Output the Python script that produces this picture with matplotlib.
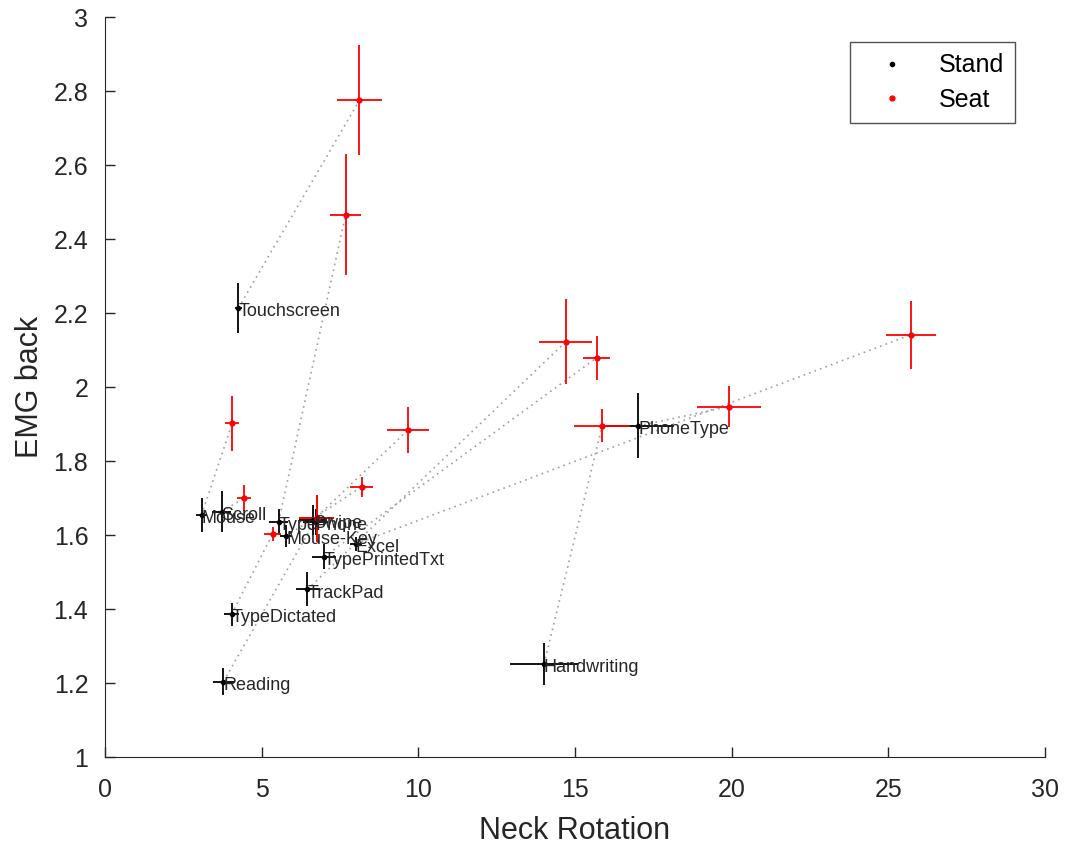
import matplotlib
matplotlib.use('Agg')
import matplotlib.pyplot as plt
from matplotlib.ticker import FuncFormatter

plt.rcParams['font.family'] = ['Liberation Sans', 'DejaVu Sans']

# ---- data ----
tasks = ['Mouse', 'Scroll', 'Touchscreen', 'Type', 'Swipe', 'Phone', 'Mouse-Key',
         'Excel', 'TypePrintedTxt', 'TrackPad', 'TypeDictated', 'Reading',
         'Handwriting', 'PhoneType']

stand_x = [3.08, 3.72, 4.26, 5.54, 6.65, 6.72, 5.78, 8.01, 6.99, 6.46, 4.04, 3.78, 14.01, 17.02]
stand_y = [1.654, 1.663, 2.214, 1.636, 1.640, 1.636, 1.597, 1.576, 1.541, 1.453, 1.386, 1.204, 1.251, 1.895]
stand_xerr = [0.19, 0.30, 0.12, 0.30, 0.45, 0.40, 0.20, 0.18, 0.37, 0.36, 0.25, 0.34, 1.08, 1.15]
stand_yerr = [0.047, 0.055, 0.068, 0.035, 0.040, 0.035, 0.030, 0.020, 0.034, 0.046, 0.031, 0.036, 0.056, 0.088]

seat_x = [4.06, 4.44, 8.12, 7.68, 9.67, 6.75, 8.19, 25.71, 15.69, 14.70, 5.35, 6.75, 15.87, 19.91]
seat_y = [1.902, 1.700, 2.775, 2.466, 1.884, 1.645, 1.730, 2.141, 2.079, 2.122, 1.603, 1.645, 1.896, 1.947]
seat_xerr = [0.23, 0.22, 0.71, 0.49, 0.68, 0.57, 0.36, 0.80, 0.44, 0.835, 0.26, 0.57, 0.90, 1.02]
seat_yerr = [0.075, 0.034, 0.149, 0.163, 0.063, 0.063, 0.028, 0.091, 0.059, 0.115, 0.018, 0.063, 0.045, 0.055]

x_ticks = [0, 5, 10, 15, 20, 25, 30]
y_ticks = [1, 1.2, 1.4, 1.6, 1.8, 2, 2.2, 2.4, 2.6, 2.8, 3]

# ---- figure ----
fig = plt.figure(figsize=(10.66, 8.48), dpi=100)
ax = fig.add_axes([0.0985, 0.1073, 0.8818, 0.8726])

# dotted connectors stand -> seat
for i in range(len(tasks)):
    ax.plot([stand_x[i], seat_x[i]], [stand_y[i], seat_y[i]],
            linestyle=(0, (1, 2.5)), color='#a0a0a0', linewidth=1.2, zorder=1)

ax.errorbar(stand_x, stand_y, xerr=stand_xerr, yerr=stand_yerr, fmt='none',
            ecolor='black', elinewidth=1.3, capsize=0, zorder=3)
ax.errorbar(seat_x, seat_y, xerr=seat_xerr, yerr=seat_yerr, fmt='none',
            ecolor='red', elinewidth=1.3, capsize=0, zorder=3)
ax.plot(stand_x, stand_y, '.', color='black', markersize=6, label='Stand', zorder=4)
ax.plot(seat_x, seat_y, '.', color='red', markersize=7, label='Seat', zorder=4)

for i, t in enumerate(tasks):
    ax.text(stand_x[i], stand_y[i] - 0.01, t, fontsize=13, color='#262626',
            ha='left', va='center', zorder=5)

ax.set_xlim(0, 30)
ax.set_ylim(1, 3)
ax.set_xticks(x_ticks)
ax.set_yticks(y_ticks)
ax.yaxis.set_major_formatter(FuncFormatter(lambda v, p: '%g' % v))
ax.tick_params(direction='in', length=7, width=1, labelsize=18, colors='#262626')
ax.tick_params(axis='x', pad=15)
ax.tick_params(axis='y', pad=12)
for s in ['top', 'right']:
    ax.spines[s].set_visible(False)
for s in ['left', 'bottom']:
    ax.spines[s].set_color('#262626')
ax.set_xlabel('Neck Rotation', fontsize=22, color='#262626', labelpad=10)
ax.set_ylabel('EMG back', fontsize=22, color='#262626', labelpad=6)

leg = ax.legend(loc='upper right', bbox_to_anchor=(1015 / 1066, 1 - 42 / 848),
                bbox_transform=fig.transFigure, fontsize=18, frameon=True,
                fancybox=False, edgecolor='#262626', handlelength=2.5,
                handletextpad=0.6, borderpad=0.45, labelspacing=0.42,
                borderaxespad=0, markerscale=1.0)
leg.get_frame().set_linewidth(1.0)

fig.savefig('out.png', dpi=100)
